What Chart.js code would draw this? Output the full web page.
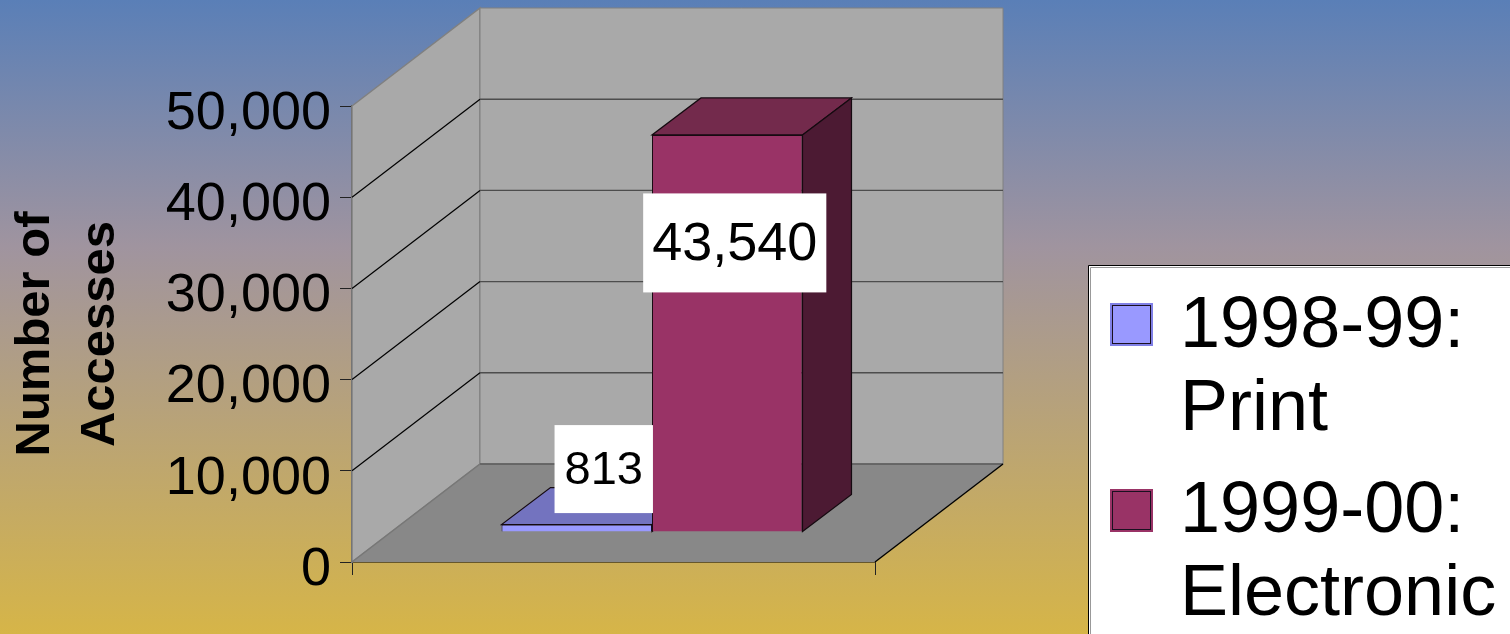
<!DOCTYPE html>
<html><head><meta charset="utf-8">
<style>
html,body{margin:0;padding:0;width:1510px;height:634px;overflow:hidden;background:linear-gradient(180deg,#5a7fb7 0%,#a0949f 39%,#d6b548 100%);}
canvas{display:block}
</style>
<script src="https://cdn.jsdelivr.net/npm/chart.js@4"></script>
</head><body>
<canvas id="c" width="1510" height="634"></canvas>
<script>
const categories = ["Accesses"];
const printValues = [813];
const electronicValues = [43540];
const seriesNames = ["1998-99: Print", "1999-00: Electronic"];
const legendLines = [["1998-99:", "Print"], ["1999-00:", "Electronic"]];
const axisTitle = ["Number of", "Accesses"];
const FONT = '"Liberation Sans", Arial, sans-serif';

const wallDepth = {dx: 128, dy: -98};
const barShift = {dx: 38.5, dy: -30};
const barDepth = {dx: 49, dy: -37};

function poly(ctx, pts, fill, stroke, lw) {
  ctx.beginPath();
  pts.forEach((p, i) => i ? ctx.lineTo(p[0], p[1]) : ctx.moveTo(p[0], p[1]));
  ctx.closePath();
  if (fill) { ctx.fillStyle = fill; ctx.fill(); }
  if (stroke) { ctx.strokeStyle = stroke; ctx.lineWidth = lw || 1; ctx.stroke(); }
}
function seg(ctx, a, b, color, lw) {
  ctx.beginPath(); ctx.moveTo(a[0], a[1]); ctx.lineTo(b[0], b[1]);
  ctx.strokeStyle = color; ctx.lineWidth = lw || 1; ctx.stroke();
}

const scene3d = {
  id: 'scene3d',
  beforeDatasetsDraw(chart) {
    const {ctx, chartArea: a, scales: {y}} = chart;
    const dx = wallDepth.dx, dy = wallDepth.dy;
    ctx.save();
    poly(ctx, [[a.left, a.top], [a.left + dx, a.top + dy], [a.left + dx, a.bottom + dy], [a.left, a.bottom]], '#a9a9a9', '#808080', 1.5);
    poly(ctx, [[a.left + dx, a.top + dy], [a.right + dx, a.top + dy], [a.right + dx, a.bottom + dy], [a.left + dx, a.bottom + dy]], '#a9a9a9', '#808080', 1);
    poly(ctx, [[a.left, a.bottom], [a.right, a.bottom], [a.right + dx, a.bottom + dy], [a.left + dx, a.bottom + dy]], '#888888');
    y.ticks.forEach(t => {
      if (t.value <= 0 || t.value >= y.max) return;
      const py = y.getPixelForValue(t.value);
      seg(ctx, [a.left, py], [a.left + dx, py + dy], '#000', 1.2);
      seg(ctx, [a.left + dx, py + dy], [a.right + dx, py + dy], '#4d4d4d', 1.4);
    });
    seg(ctx, [a.left + dx, a.bottom + dy], [a.right + dx, a.bottom + dy], '#5a5a5a', 1.4);
    seg(ctx, [a.left, a.bottom], [a.left + dx, a.bottom + dy], '#777', 1.5);
    seg(ctx, [a.right, a.bottom], [a.right + dx, a.bottom + dy], '#000', 1.4);
    ctx.restore();

    // Back series first, so the taller front bar covers its hidden part.
    chart.data.datasets.forEach((ds, i) => {
      const meta = chart.getDatasetMeta(i);
      ctx.save();
      ctx.translate(barShift.dx, barShift.dy);
      meta.controller.draw();
      meta.data.forEach(bar => {
        const l = bar.x - bar.width / 2, r = bar.x + bar.width / 2, t = bar.y, b = bar.base;
        const bx = barDepth.dx, by = barDepth.dy;
        poly(ctx, [[l, t], [r, t], [r + bx, t + by], [l + bx, t + by]], ds.topColor, '#150a10', 1.2);
        poly(ctx, [[r, t], [r + bx, t + by], [r + bx, b + by], [r, b]], ds.sideColor, '#150a10', 1.2);
      });
      ctx.restore();
    });

    ctx.save();
    chart.data.datasets.forEach((ds, i) => {
      const bar = chart.getDatasetMeta(i).data[0];
      const box = ds.labelBox;
      const text = ds.data[0].toLocaleString('en-US');
      ctx.font = box.size + 'px ' + FONT;
      const cx = bar.x + barShift.dx + box.ox;
      const cy = bar.y + barShift.dy + box.oy;
      const w = ctx.measureText(text).width + box.padX * 2;
      ctx.fillStyle = '#fff';
      ctx.fillRect(cx - w / 2, cy - box.h / 2, w, box.h);
      ctx.fillStyle = '#000';
      ctx.textAlign = 'center';
      ctx.textBaseline = 'middle';
      ctx.fillText(text, cx, cy + 2);
    });
    ctx.restore();
    return false;
  },
  afterDraw(chart) {
    const {ctx} = chart;
    ctx.save();
    ctx.fillStyle = '#fff';
    ctx.fillRect(1089, 266, 421, 368);
    seg(ctx, [1088.5, 634], [1088.5, 265.5], '#000', 1);
    seg(ctx, [1088.5, 265.5], [1510, 265.5], '#000', 1);
    seg(ctx, [1090.5, 634], [1090.5, 267.5], '#999', 1);
    seg(ctx, [1090.5, 267.5], [1510, 267.5], '#999', 1);
    const swatchY = [303, 489], textY = [[347, 430], [532, 615]];
    legendLines.forEach((lines, i) => {
      const ds = chart.data.datasets[i];
      ctx.fillStyle = ds.borderEdge;
      ctx.fillRect(1110, swatchY[i], 43, 43);
      ctx.fillStyle = ds.backgroundColor;
      ctx.fillRect(1112, swatchY[i] + 2, 39, 39);
      ctx.strokeStyle = '#1a1020';
      ctx.lineWidth = 1;
      ctx.strokeRect(1112.5, swatchY[i] + 2.5, 38, 38);
      ctx.fillStyle = '#000';
      ctx.font = '72px ' + FONT;
      ctx.textAlign = 'left';
      ctx.textBaseline = 'alphabetic';
      lines.forEach((ln, j) => ctx.fillText(ln, 1180, textY[i][j]));
    });
    ctx.restore();
  }
};

new Chart(document.getElementById('c'), {
  type: 'bar',
  data: {
    labels: categories,
    datasets: [
      {label: seriesNames[0], data: printValues, backgroundColor: '#9999ff', borderColor: '#1a1040', borderWidth: 1,
       topColor: '#7373bf', sideColor: '#4d4d80', borderEdge: '#8080e6',
       categoryPercentage: 0.5755, barPercentage: 1,
       labelBox: {size: 47, padX: 10, h: 88, ox: 27, oy: -55.5}},
      {label: seriesNames[1], data: electronicValues, backgroundColor: '#993366', borderColor: '#1a0a12', borderWidth: 1,
       topColor: '#732a4c', sideColor: '#4c1a33', borderEdge: '#993366',
       categoryPercentage: 0.5755, barPercentage: 1,
       labelBox: {size: 54, padX: 9, h: 99, ox: 7.5, oy: 108}}
    ]
  },
  options: {
    responsive: false,
    animation: false,
    events: [],
    layout: {padding: {left: 0, top: 106, right: 635, bottom: 59}},
    plugins: {legend: {display: false}, tooltip: {enabled: false}, title: {display: false}},
    scales: {
      x: {
        offset: true,
        grid: {drawOnChartArea: false, drawTicks: true, tickLength: 13, color: '#222', offset: true},
        border: {display: true, color: '#000', width: 1.5},
        ticks: {display: false}
      },
      y: {
        min: 0, max: 50000,
        afterFit(scale) { scale.width = 352; },
        grid: {drawOnChartArea: false, drawTicks: true, tickLength: 12, color: '#222'},
        border: {display: true, color: '#555', width: 2},
        ticks: {
          stepSize: 10000, padding: 9, color: '#000', labelOffset: 8,
          font: {family: FONT, size: 54},
          callback: v => Number(v).toLocaleString('en-US')
        },
        title: {
          display: true, text: axisTitle, color: '#000',
          font: {family: FONT, size: 49, weight: 'bold', lineHeight: '65px'},
          padding: {top: 3, bottom: 0}
        }
      }
    }
  },
  plugins: [scene3d]
});
</script>
</body></html>
